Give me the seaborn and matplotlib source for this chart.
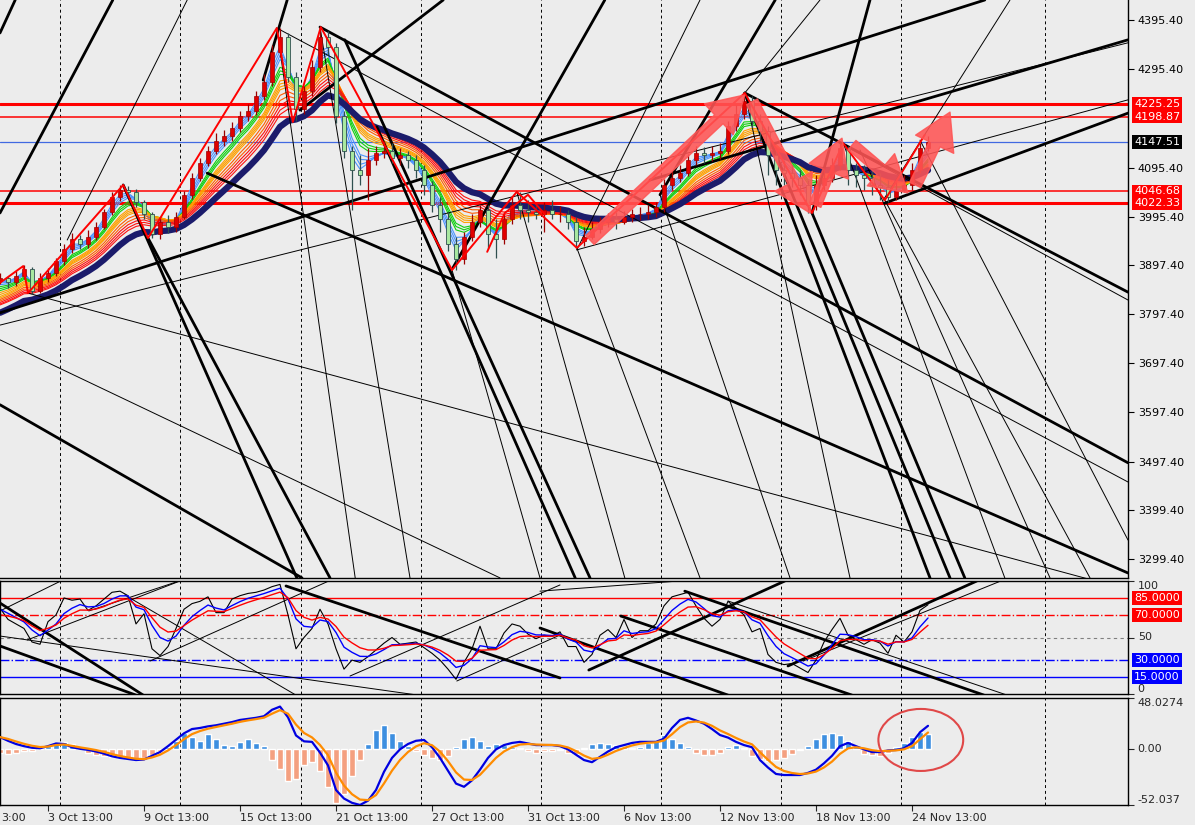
import numpy as np
import pandas as pd
import seaborn as sns
import matplotlib.pyplot as plt
from matplotlib.patches import Ellipse
import matplotlib.transforms as mtransforms

# ---------------- data (one bar = one 8 px column) ----------------
closes = [3870, 3862, 3875, 3890, 3845, 3870, 3880, 3905, 3930, 3950,
          3940, 3955, 3975, 4005, 4035, 4050, 4045, 4025, 4000, 3960,
          3985, 3975, 3995, 4040, 4075, 4105, 4130, 4150, 4160, 4175,
          4200, 4210, 4240, 4270, 4330, 4360, 4280, 4215, 4250, 4300,
          4360, 4340, 4200, 4130, 4090, 4080, 4110, 4125, 4130, 4115,
          4120, 4110, 4090, 4060, 4020, 3990, 3940, 3910, 3955, 3985,
          4010, 3960, 3950, 3990, 4020, 4010, 4005, 4000, 4010, 4000,
          4000, 3985, 3945, 3955, 3970, 3985, 3990, 3985, 3995, 4000,
          4000, 4005, 4015, 4060, 4075, 4085, 4110, 4125, 4120, 4125,
          4130, 4180, 4205, 4230, 4190, 4170, 4120, 4090, 4085, 4075,
          4060, 4020, 4060, 4075, 4100, 4135, 4090, 4080, 4075, 4060,
          4055, 4035, 4050, 4060, 4090, 4135, 4147.51]
highs = [3880, 3875, 3885, 3897, 3893, 3880, 3892, 3912, 3940, 3962,
         3958, 3968, 3985, 4012, 4045, 4060, 4058, 4052, 4030, 4005,
         3995, 3998, 4005, 4048, 4085, 4115, 4140, 4165, 4172, 4188,
         4210, 4225, 4250, 4285, 4345, 4379, 4368, 4290, 4262, 4315,
         4381, 4372, 4348, 4210, 4140, 4120, 4135, 4140, 4150, 4145,
         4135, 4130, 4120, 4100, 4068, 4035, 4005, 3955, 3965, 4000,
         4020, 4020, 3990, 4000, 4035, 4046, 4030, 4022, 4025, 4030,
         4018, 4010, 3995, 3975, 3985, 3995, 4002, 4005, 4008, 4012,
         4015, 4020, 4025, 4072, 4088, 4100, 4122, 4140, 4138, 4140,
         4145, 4190, 4222, 4247, 4240, 4205, 4180, 4130, 4110, 4100,
         4090, 4070, 4080, 4095, 4115, 4145, 4140, 4105, 4100, 4090,
         4085, 4070, 4065, 4080, 4105, 4145, 4160]
lows = [3858, 3850, 3855, 3868, 3838, 3840, 3862, 3875, 3898, 3922,
        3930, 3932, 3948, 3970, 3998, 4028, 4035, 4015, 3990, 3952,
        3950, 3962, 3965, 3990, 4032, 4068, 4098, 4122, 4140, 4150,
        4168, 4190, 4202, 4232, 4262, 4320, 4270, 4190, 4205, 4240,
        4290, 4325, 4185, 4115, 4010, 4060, 4030, 4100, 4115, 4105,
        4100, 4095, 4075, 4040, 4005, 3965, 3925, 3887, 3900, 3945,
        3975, 3930, 3912, 3940, 3980, 3990, 3985, 3990, 3965, 3990,
        3985, 3970, 3932, 3935, 3950, 3962, 3975, 3970, 3980, 3985,
        3988, 3990, 3995, 4005, 4050, 4065, 4078, 4100, 4105, 4108,
        4112, 4122, 4170, 4195, 4175, 4150, 4080, 4060, 4060, 4055,
        4040, 4003, 4010, 4050, 4065, 4090, 4060, 4055, 4050, 4040,
        4030, 4025, 4030, 4045, 4050, 4085, 4128]
first_open = 3865

stoch_k = [76, 66, 62, 58, 46, 44, 64, 70, 85, 83,
           84, 74, 78, 84, 90, 91, 87, 62, 71, 40,
           34, 42, 58, 75, 80, 82, 86, 72, 72, 84,
           87, 89, 90, 92, 95, 97, 70, 40, 50, 58,
           75, 62, 40, 22, 30, 28, 33, 39, 45, 50,
           44, 45, 46, 41, 36, 30, 22, 13, 28, 40,
           60, 40, 40, 54, 62, 60, 53, 49, 52, 51,
           55, 42, 42, 28, 35, 52, 57, 50, 66, 50,
           56, 56, 62, 78, 86, 88, 90, 78, 67, 60,
           66, 82, 76, 70, 55, 58, 35, 28, 26, 27,
           23, 19, 30, 46, 57, 67, 52, 48, 44, 48,
           45, 36, 52, 46, 55, 74, 79]
stoch_start = [75, 70]

macd_line = [11.5, 8, 5, 3, 1.5, 1, 3, 5.5, 5, 2,
             0.5, -0.5, -2, -4, -6.5, -8, -9, -10, -9.5, -6,
             -2.5, 3, 9, 15, 19, 20, 21.5, 22.5, 24, 25.5,
             27.5, 28.5, 29.5, 31, 37, 40, 30, 13, 7.5, 7,
             -3, -15, -38, -46, -50, -52, -48, -38, -21, -8,
             0, 5, 8, 8.8, 2, -8, -20, -32, -35, -29,
             -19, -8, 0, 4, 6, 7, 5.5, 4, 4, 4,
             3, 0, -5, -10, -12, -7, -2, 2, 4, 6,
             7, 7, 7, 10, 20, 27.5, 29.5, 27, 24, 19,
             13.4, 11, 7, 4, 2, -10, -17, -23, -24, -24,
             -24, -22, -19, -13, -6, 3, 6, 3, 0, -2.5,
             -2.5, -1, -0.6, 1, 6, 16, 22]
macd_hist = [-3, -4, -3, -2, -2, 1, 3, 6, 7, 5,
             2, -3, -5, -6, -7, -8, -9, -10, -8, -5,
             -2, 2, 8, 15, 12, 8, 14, 10, 4, 3,
             7, 10, 6, 3, -10, -18, -30, -28, -15, -12,
             -20, -35, -50, -42, -25, -10, 5, 18, 23, 15,
             8, 3, -2, -5, -8, -10, -6, 2, 10, 12,
             8, 3, 5, 4, 2, 1, -2, -3, -2, -2,
             -1, -3, -4, 1, 5, 6, 5, 4, 2, 1,
             2, 6, 8, 13, 10, 6, 2, -3, -5, -5,
             -3, 2, 4, 1, -6, -9, -11, -10, -8, -4,
             -1, 3, 10, 14, 15, 13, 8, 3, -4, -5,
             -6, -3, 2, 6, 12, 16, 14]
macd_max, macd_min = 48.0274, -52.037

red_levels = [4225.25, 4198.87, 4046.68, 4022.33]
red_level_widths = [2.2, 1.1, 1.1, 2.2]
last_price = 4147.51
price_ticks = [4395.40, 4295.40, 4095.40, 3995.40, 3897.40, 3797.40,
               3697.40, 3597.40, 3497.40, 3399.40, 3299.40]

time_ticks = [6, 18, 30, 42, 54, 66, 78, 90, 102, 114]
time_labels = ['3 Oct 13:00', '9 Oct 13:00', '15 Oct 13:00', '21 Oct 13:00',
               '27 Oct 13:00', '31 Oct 13:00', '6 Nov 13:00', '12 Nov 13:00',
               '18 Nov 13:00', '24 Nov 13:00']
grid_x = [7.56, 22.5, 37.6, 52.6, 67.6, 82.6, 97.6, 112.6, 130.6]

# moving-average ribbon: spans (in bars), colours, left-edge values
ribbon_spans = [2, 2.5, 3, 3.5, 4.5, 5, 5.5, 6.5, 7, 7.5, 8, 9, 10, 11, 12, 13]
ribbon_colors = ['#4A94FF'] * 4 + ['#10D010'] * 3 + ['#FFA000'] * 4 + ['#FF5A00'] * 2 + ['#FF1010'] * 3
ribbon_start = [3868, 3865, 3861, 3857, 3853, 3849, 3845, 3841,
                3837, 3833, 3830, 3827, 3824, 3821, 3818, 3816]
navy_span, navy_start = 16, 3800

# swing zigzag (bar, price)
zig_x = [0, 2.9, 3.5, 15.4, 18.5, 34.6, 36.6, 40.1, 56.5, 64.6, 72.1, 93.1, 101.5, 105.4, 110.6, 115.6]
zig_p = [3861, 3895, 3840, 4060, 3952, 4379, 4188, 4381, 3887, 4046, 3932, 4247, 4003, 4145, 4029, 4162]
zig2_x = [60.9, 63.1, 66.0, 68.1]
zig2_p = [3924, 4003, 4040, 4000]

# big pink arrows (bar0, price0, bar1, price1)
arrows = [(73.75, 3948, 93.1, 4243), (94.0, 4229, 101.25, 4003), (101.9, 4019, 105.25, 4155),
          (106.5, 4141, 113.5, 4044), (114.4, 4060, 118.75, 4208)]

# hand-drawn trend lines (bar0, price0, bar1, price1)
main_thick = [(0, 4369, 1.9, 4436), (0, 4003, 14.1, 4436), (0, 3800, 123.1, 4436),
              (40, 4381, 141, 3495), (93.1, 4247, 141, 3842), (110.6, 4023, 141, 4206),
              (81.25, 4070, 141, 4355), (15.4, 4060, 37.1, 3261), (18.5, 3952, 41.25, 3261),
              (47.1, 4178, 71.9, 3261), (43.1, 4355, 73.75, 3261), (93.1, 4247, 116.25, 3261),
              (96.25, 4151, 118.75, 3261), (101.5, 4003, 120.6, 3261), (0, 3613, 37.75, 3261),
              (25.9, 4084, 141, 3271), (32.9, 4273, 35.9, 4436), (37.5, 4212, 55.4, 4436),
              (56.6, 3891, 75.6, 4436), (82.5, 4040, 96.9, 4436), (101.5, 4003, 108.75, 4436)]
main_thin = [(8.4, 3948, 23.4, 4436), (0, 3775, 141, 4349), (72.1, 3928, 141, 4233),
             (34.6, 4379, 141, 3456), (105, 4145, 141, 3826), (40, 4381, 51.25, 3261),
             (56.5, 3887, 67.5, 3261), (64.6, 4046, 78.1, 3261), (72.1, 3932, 87.5, 3261),
             (82.5, 4040, 98.75, 3261), (93.1, 4247, 106.25, 3261), (105.4, 4145, 125.6, 3261),
             (107.5, 4131, 131.25, 3261), (110.6, 4029, 136.25, 3261), (115, 4151, 141, 3338),
             (3.5, 3840, 141, 3237), (0, 3745, 62.5, 3261), (34.6, 4379, 44.4, 3261),
             (72.1, 3928, 87.5, 4436), (93.1, 4247, 102.5, 4436), (110.4, 4029, 126.25, 4436)]
stoch_thick = [(0, 80.5, 17.9, -1), (0, 42.5, 17, -1), (35.75, 95.6, 70, 14.2),
               (73.6, 21.2, 98.1, 100), (85.6, 91, 123, -1), (77.6, 69, 106.5, -1),
               (98.5, 24.8, 122.1, 100), (67.5, 58.4, 91, -1)]
stoch_thin = [(0, 51.3, 52.25, -1), (15.6, 87.6, 37, -1), (0, 73.5, 7.6, 100),
              (3.4, 47.8, 22.5, 100), (11.1, 73.5, 22.4, 100), (18.75, 29.2, 41.1, 100),
              (43.75, 15.9, 70, 96.5), (57.1, 11.5, 70, 52.2), (100.4, 29.2, 125.1, 100),
              (91, 82.3, 125.9, -1), (67.5, 91, 84.9, 100)]

# ---------------- derived series ----------------
n = len(closes)
x = np.arange(n)
opens = [first_open] + closes[:-1]


def ema(values, span, start):
    a = 2.0 / (span + 1.0)
    out = [start]
    for v in values[1:]:
        out.append(a * v + (1 - a) * out[-1])
    return np.array(out)


BG = '#ECECEC'
sns.set_style('white', {'axes.facecolor': BG, 'figure.facecolor': BG})
plt.rcParams['font.family'] = ['DejaVu Sans']
plt.rcParams['font.size'] = 8

fig = plt.figure(figsize=(11.95, 8.25), dpi=100, facecolor=BG)
ax = fig.add_axes([0, 247 / 825, 1128 / 1195, 578 / 825])
axs = fig.add_axes([0, 131 / 825, 1128 / 1195, 113 / 825])
axm = fig.add_axes([0, 20 / 825, 1128 / 1195, 107 / 825])
XMAX = 141

# ---------------- main price panel ----------------
for gx in grid_x:
    for a_ in (ax, axs, axm):
        a_.axvline(gx, color='black', lw=0.7, ls=(0, (3, 3)), zorder=1)

for lvl, w in zip(red_levels, red_level_widths):
    ax.axhline(lvl, color='#FF0000', lw=w, zorder=2)
ax.axhline(last_price, color='#4169E1', lw=0.9, zorder=2)

for span, col, st in zip(ribbon_spans, ribbon_colors, ribbon_start):
    sns.lineplot(x=x, y=ema(closes, span, st), ax=ax, color=col, lw=0.8, zorder=3)
sns.lineplot(x=x, y=ema(closes, navy_span, navy_start), ax=ax, color='#1B1B6B', lw=4.5, zorder=4)

for x0, p0, x1, p1 in main_thin:
    ax.plot([x0, x1], [p0, p1], color='black', lw=0.7, zorder=5)
for x0, p0, x1, p1 in main_thick:
    ax.plot([x0, x1], [p0, p1], color='black', lw=2.0, zorder=5)

o = np.array(opens, float)
c = np.array(closes, float)
up = c >= o
body_lo = np.minimum(o, c)
body_h = np.maximum(np.abs(c - o), 1.5)
ax.vlines(x[up], np.array(lows)[up], np.array(highs)[up], color='#9A0000', lw=0.9, zorder=6)
ax.vlines(x[~up], np.array(lows)[~up], np.array(highs)[~up], color='#2F4F4F', lw=0.9, zorder=6)
ax.bar(x[up], body_h[up], bottom=body_lo[up], width=0.5, color='#E00000', edgecolor='#A00000', lw=0.5, zorder=7)
ax.bar(x[~up], body_h[~up], bottom=body_lo[~up], width=0.5, color='#A8E8A0', edgecolor='#2F4F4F', lw=0.6, zorder=7)

ax.plot(zig_x, zig_p, color='#FF0000', lw=1.4, zorder=8)
ax.plot(zig2_x, zig2_p, color='#FF0000', lw=1.4, zorder=8)

for x0, p0, x1, p1 in arrows:
    ax.annotate('', xy=(x1, p1), xytext=(x0, p0),
                arrowprops=dict(arrowstyle='simple,head_length=1.6,head_width=1.9,tail_width=0.55',
                                color='#FF5555', alpha=0.88, shrinkA=0, shrinkB=0, mutation_scale=16),
                zorder=9)

ax.set_xlim(0, XMAX)
ax.set_ylim(3260.8, 4436)
ax.yaxis.tick_right()
ax.set_yticks(price_ticks)
ax.set_yticklabels(['%.2f' % v for v in price_ticks])
ax.set_xticks([])
ax.tick_params(axis='y', length=4, width=0.8, pad=3, colors='black', labelsize=8, direction='out', right=True)

right = mtransforms.blended_transform_factory(ax.transAxes, ax.transData)
for lvl in red_levels:
    ax.text(1.0055, lvl, '%.2f' % lvl, transform=right, color='white', fontsize=8, va='center', ha='left',
            bbox=dict(facecolor='#FF0000', edgecolor='none', pad=1.3), zorder=20, clip_on=False)
ax.text(1.0055, last_price, '%.2f' % last_price, transform=right, color='white', fontsize=8, va='center', ha='left',
        bbox=dict(facecolor='black', edgecolor='none', pad=1.3), zorder=20, clip_on=False)

# ---------------- stochastic panel ----------------
k = np.array(stoch_k, float)
d_blue = ema(stoch_k, 4, stoch_start[0])
d_red = ema(stoch_k, 7, stoch_start[1])
axs.axhline(85, color='#FF0000', lw=1.0)
axs.axhline(70, color='#FF0000', lw=1.0, ls='-.')
axs.axhline(50, color='#808080', lw=0.8, ls=(0, (3, 3)))
axs.axhline(30, color='#0000FF', lw=1.0, ls='-.')
axs.axhline(15, color='#0000FF', lw=1.0)
for x0, v0, x1, v1 in stoch_thin:
    axs.plot([x0, x1], [v0, v1], color='black', lw=0.7)
for x0, v0, x1, v1 in stoch_thick:
    axs.plot([x0, x1], [v0, v1], color='black', lw=2.0)
sns.lineplot(x=x, y=k, ax=axs, color='black', lw=0.8)
sns.lineplot(x=x, y=d_blue, ax=axs, color='#0000FF', lw=1.0)
sns.lineplot(x=x, y=d_red, ax=axs, color='#FF0000', lw=1.0)
axs.set_xlim(0, XMAX)
axs.set_ylim(0, 100)
axs.yaxis.tick_right()
axs.set_yticks([0, 50, 100])
axs.set_yticklabels(['0', '50', '100'])
for lbl, va in zip(axs.get_yticklabels(), ['bottom', 'center', 'top']):
    lbl.set_va(va)
axs.set_xticks([])
axs.tick_params(axis='y', length=4, width=0.8, pad=3, labelsize=8, right=True)
rs = mtransforms.blended_transform_factory(axs.transAxes, axs.transData)
for lvl, col in [(85, '#FF0000'), (70, '#FF0000'), (30, '#0000FF'), (15, '#0000FF')]:
    axs.text(1.0055, lvl, '%.4f' % lvl, transform=rs, color='white', fontsize=8, va='center', ha='left',
             bbox=dict(facecolor=col, edgecolor='none', pad=1.3), zorder=20, clip_on=False)

# ---------------- MACD panel ----------------
macd = np.array(macd_line, float)
signal = ema(macd_line, 3, macd_line[0])
h = np.array(macd_hist, float)
axm.bar(x[h >= 0], h[h >= 0], width=0.7, color='#3D8FE0', zorder=2)
axm.bar(x[h < 0], h[h < 0], width=0.7, color='#F4A080', zorder=2)
sns.lineplot(x=x, y=macd, ax=axm, color='#0000E0', lw=1.6, zorder=3)
sns.lineplot(x=x, y=signal, ax=axm, color='#FF8C00', lw=1.6, zorder=4)
axm.add_patch(Ellipse((115.1, 8.8), 10.6, 58, fill=False, edgecolor='#E04848', lw=1.5, zorder=5))
axm.set_xlim(0, XMAX)
axm.set_ylim(macd_min, macd_max)
axm.yaxis.tick_right()
axm.set_yticks([macd_min, 0, macd_max])
axm.set_yticklabels(['-52.037', '0.00', '48.0274'])
for lbl, va in zip(axm.get_yticklabels(), ['bottom', 'center', 'top']):
    lbl.set_va(va)
axm.tick_params(axis='y', length=4, width=0.8, pad=3, labelsize=8, right=True)
axm.set_xticks(time_ticks)
axm.set_xticklabels(time_labels)
for lbl in axm.get_xticklabels():
    lbl.set_ha('left')
axm.tick_params(axis='x', length=4, width=0.8, pad=2, labelsize=8, bottom=True)
fig.text(1 / 1195, 7 / 825, '3:00', ha='left', va='center', fontsize=8)

for a_ in (ax, axs, axm):
    a_.set_xlabel('')
    a_.set_ylabel('')
    for s in a_.spines.values():
        s.set_color('black')
        s.set_linewidth(1.0)
ax.spines['top'].set_visible(False)
ax.spines['left'].set_visible(False)

fig.savefig('out.png', dpi=100, facecolor=BG)
